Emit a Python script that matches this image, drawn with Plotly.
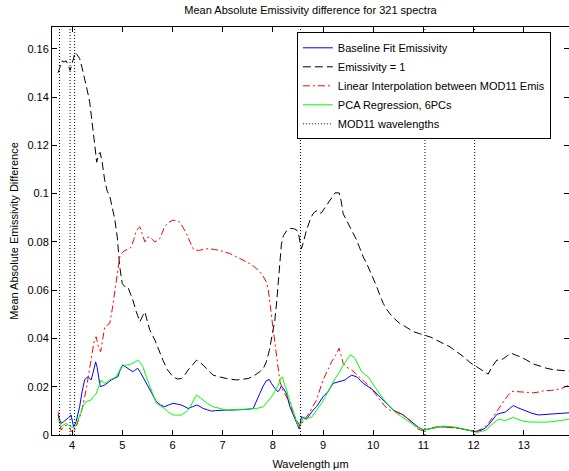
import plotly.graph_objects as go

# ---------------- data ----------------
mod11_wavelengths = [3.75, 3.96, 4.05, 8.55, 11.03, 12.02]

wl_emis1 = [3.72, 3.76, 3.80, 3.84, 3.88, 3.92, 3.96, 3.99, 4.02, 4.06, 4.10, 4.15, 4.20, 4.25, 4.30,
            4.35, 4.40, 4.45, 4.49, 4.53, 4.56, 4.60, 4.65, 4.70, 4.75, 4.80, 4.85, 4.90, 4.95, 5.00,
            5.05, 5.11, 5.16, 5.21, 5.28, 5.35, 5.41, 5.45, 5.50, 5.55, 5.65, 5.73, 5.81, 5.90, 6.01,
            6.10, 6.18, 6.25, 6.31, 6.40, 6.48, 6.55, 6.61, 6.70, 6.81, 6.95, 7.08, 7.28, 7.40, 7.51,
            7.62, 7.74, 7.82, 7.87, 7.93, 7.97, 8.04, 8.08, 8.11, 8.14, 8.17, 8.21, 8.27, 8.34, 8.41,
            8.47, 8.51, 8.54, 8.57, 8.61, 8.67, 8.74, 8.80, 8.86, 8.90, 8.96, 9.00, 9.05, 9.10, 9.17,
            9.24, 9.32, 9.36, 9.40, 9.47, 9.54, 9.60, 9.67, 9.73, 9.80, 9.87, 9.93, 10.00, 10.07, 10.13,
            10.20, 10.27, 10.33, 10.43, 10.53, 10.67, 10.80, 10.92, 11.03, 11.15, 11.26, 11.40, 11.53,
            11.66, 11.80, 11.93, 12.06, 12.18, 12.29, 12.36, 12.42, 12.46, 12.53, 12.60, 12.68, 12.76,
            12.85, 12.93, 13.06, 13.19, 13.33, 13.46, 13.60, 13.72, 13.90]
emis1 = [0.1500, 0.1525, 0.1550, 0.1545, 0.1550, 0.1535, 0.1510, 0.1530, 0.1560, 0.1585, 0.1575, 0.1560,
         0.1520, 0.1480, 0.1430, 0.1380, 0.1300, 0.1205, 0.1130, 0.1165, 0.1170, 0.1130, 0.1055, 0.1010,
         0.0990, 0.0945, 0.0895, 0.0820, 0.0696, 0.0627, 0.0615, 0.0614, 0.0590, 0.0559, 0.0510, 0.0469,
         0.0495, 0.0510, 0.0470, 0.0434, 0.0393, 0.0350, 0.0310, 0.0270, 0.0241, 0.0232, 0.0234, 0.0250,
         0.0269, 0.0290, 0.0310, 0.0300, 0.0290, 0.0270, 0.0248, 0.0240, 0.0234, 0.0228, 0.0230, 0.0234,
         0.0245, 0.0262, 0.0280, 0.0303, 0.0350, 0.0393, 0.0476, 0.0560, 0.0641, 0.0720, 0.0790, 0.0825,
         0.0845, 0.0855, 0.0855, 0.0850, 0.0835, 0.0800, 0.0772, 0.0800, 0.0848, 0.0890, 0.0917, 0.0928,
         0.0928, 0.0918, 0.0930, 0.0945, 0.0965, 0.0985, 0.1003, 0.1003, 0.0970, 0.0917, 0.0890, 0.0862,
         0.0835, 0.0807, 0.0775, 0.0738, 0.0710, 0.0683, 0.0650, 0.0614, 0.0580, 0.0545, 0.0520, 0.0503,
         0.0480, 0.0462, 0.0445, 0.0428, 0.0420, 0.0414, 0.0405, 0.0393, 0.0380, 0.0365, 0.0345, 0.0324,
         0.0300, 0.0283, 0.0265, 0.0252, 0.0280, 0.0300, 0.0310, 0.0310, 0.0317, 0.0330, 0.0338, 0.0330,
         0.0324, 0.0310, 0.0294, 0.0285, 0.0276, 0.0270, 0.0269, 0.0265]

wl_interp = [3.72, 3.78, 3.83, 3.88, 3.95, 4.02, 4.08, 4.18, 4.28, 4.38, 4.44, 4.48, 4.53, 4.57, 4.62,
             4.65, 4.70, 4.75, 4.80, 4.85, 4.90, 4.95, 5.00, 5.05, 5.12, 5.18, 5.23, 5.28, 5.35, 5.40,
             5.45, 5.50, 5.55, 5.60, 5.65, 5.70, 5.75, 5.80, 5.84, 5.92, 6.01, 6.08, 6.14, 6.21, 6.28,
             6.35, 6.41, 6.48, 6.54, 6.64, 6.74, 6.84, 6.94, 7.04, 7.14, 7.24, 7.34, 7.44, 7.54, 7.64,
             7.74, 7.80, 7.87, 7.91, 7.94, 7.97, 8.00, 8.04, 8.07, 8.11, 8.14, 8.20, 8.27, 8.34, 8.40,
             8.47, 8.54, 8.59, 8.64, 8.72, 8.80, 8.87, 9.00, 9.08, 9.17, 9.25, 9.32, 9.36, 9.40, 9.48,
             9.57, 9.65, 9.73, 9.83, 9.93, 10.03, 10.13, 10.23, 10.33, 10.43, 10.53, 10.63, 10.73, 10.80,
             10.86, 10.95, 11.03, 11.15, 11.26, 11.40, 11.53, 11.66, 11.80, 11.92, 12.03, 12.10, 12.20,
             12.30, 12.39, 12.49, 12.59, 12.68, 12.76, 12.90, 13.06, 13.19, 13.30, 13.39, 13.55, 13.66,
             13.78, 13.90]
interp = [0.0097, 0.0020, 0.0035, 0.0041, 0.0028, 0.0007, 0.0034, 0.0090, 0.0186, 0.0324, 0.0390, 0.0407,
          0.0360, 0.0345, 0.0400, 0.0448, 0.0455, 0.0462, 0.0520, 0.0600, 0.0670, 0.0738, 0.0755, 0.0765,
          0.0768, 0.0779, 0.0810, 0.0848, 0.0862, 0.0830, 0.0800, 0.0818, 0.0821, 0.0810, 0.0800, 0.0805,
          0.0814, 0.0840, 0.0862, 0.0880, 0.0890, 0.0888, 0.0883, 0.0860, 0.0834, 0.0800, 0.0772, 0.0765,
          0.0765, 0.0770, 0.0772, 0.0768, 0.0765, 0.0758, 0.0752, 0.0742, 0.0731, 0.0720, 0.0710, 0.0695,
          0.0676, 0.0660, 0.0634, 0.0600, 0.0559, 0.0500, 0.0448, 0.0380, 0.0324, 0.0260, 0.0222, 0.0186,
          0.0159, 0.0131, 0.0095, 0.0062, 0.0037, 0.0050, 0.0066, 0.0090, 0.0117, 0.0145, 0.0228, 0.0265,
          0.0303, 0.0330, 0.0359, 0.0330, 0.0297, 0.0280, 0.0269, 0.0255, 0.0241, 0.0220, 0.0200, 0.0172,
          0.0145, 0.0120, 0.0103, 0.0097, 0.0090, 0.0076, 0.0062, 0.0045, 0.0028, 0.0020, 0.0018, 0.0028,
          0.0034, 0.0034, 0.0032, 0.0028, 0.0023, 0.0018, 0.0014, 0.0020, 0.0028, 0.0050, 0.0076, 0.0110,
          0.0138, 0.0163, 0.0181, 0.0180, 0.0178, 0.0175, 0.0178, 0.0183, 0.0185, 0.0188, 0.0195, 0.0207]

wl_baseline = [3.72, 3.78, 3.83, 3.88, 3.93, 3.98, 4.01, 4.03, 4.06, 4.08, 4.12, 4.15, 4.20, 4.25, 4.29,
               4.32, 4.35, 4.38, 4.42, 4.47, 4.50, 4.52, 4.56, 4.60, 4.65, 4.72, 4.78, 4.85, 4.91, 4.96,
               5.01, 5.06, 5.11, 5.16, 5.21, 5.26, 5.31, 5.36, 5.41, 5.48, 5.55, 5.62, 5.68, 5.76, 5.84,
               5.92, 6.01, 6.10, 6.18, 6.25, 6.31, 6.40, 6.48, 6.55, 6.61, 6.70, 6.78, 6.86, 6.94, 7.04,
               7.14, 7.24, 7.34, 7.48, 7.61, 7.68, 7.74, 7.80, 7.87, 7.93, 7.97, 8.04, 8.10, 8.14, 8.17,
               8.22, 8.27, 8.34, 8.41, 8.47, 8.525, 8.57, 8.62, 8.67, 8.80, 8.87, 9.00, 9.10, 9.20, 9.34,
               9.44, 9.50, 9.57, 9.67, 9.80, 9.90, 10.00, 10.10, 10.20, 10.30, 10.40, 10.50, 10.60, 10.70,
               10.80, 10.90, 11.00, 11.10, 11.20, 11.33, 11.47, 11.60, 11.73, 11.86, 11.96, 12.06, 12.15,
               12.23, 12.33, 12.39, 12.46, 12.53, 12.63, 12.72, 12.79, 12.88, 12.99, 13.06, 13.16, 13.29,
               13.40, 13.52, 13.72, 13.90]
baseline = [0.0083, 0.0048, 0.0055, 0.0062, 0.0072, 0.0083, 0.0060, 0.0034, 0.0045, 0.0055, 0.0090, 0.0117,
            0.0180, 0.0228, 0.0238, 0.0241, 0.0235, 0.0228, 0.0260, 0.0303, 0.0280, 0.0255, 0.0200, 0.0203,
            0.0207, 0.0218, 0.0228, 0.0235, 0.0241, 0.0270, 0.0290, 0.0283, 0.0276, 0.0270, 0.0262, 0.0270,
            0.0276, 0.0260, 0.0241, 0.0210, 0.0186, 0.0160, 0.0138, 0.0125, 0.0117, 0.0124, 0.0131, 0.0128,
            0.0124, 0.0117, 0.0110, 0.0117, 0.0124, 0.0118, 0.0110, 0.0104, 0.0099, 0.0101, 0.0103, 0.0103,
            0.0103, 0.0103, 0.0103, 0.0106, 0.0110, 0.0140, 0.0172, 0.0200, 0.0225, 0.0230, 0.0214, 0.0193,
            0.0179, 0.0190, 0.0203, 0.0190, 0.0172, 0.0117, 0.0085, 0.0050, 0.0025, 0.0076, 0.0069, 0.0065,
            0.0103, 0.0117, 0.0159, 0.0180, 0.0214, 0.0221, 0.0228, 0.0238, 0.0248, 0.0241, 0.0214, 0.0200,
            0.0186, 0.0165, 0.0145, 0.0124, 0.0103, 0.0093, 0.0083, 0.0065, 0.0048, 0.0032, 0.0021, 0.0025,
            0.0028, 0.0034, 0.0033, 0.0032, 0.0027, 0.0021, 0.0017, 0.0014, 0.0020, 0.0028, 0.0050, 0.0065,
            0.0085, 0.0090, 0.0095, 0.0110, 0.0122, 0.0113, 0.0103, 0.0097, 0.0090, 0.0083, 0.0085, 0.0087,
            0.0090, 0.0092]

wl_pca = [3.72, 3.78, 3.83, 3.88, 3.93, 3.98, 4.03, 4.08, 4.13, 4.18, 4.23, 4.28, 4.33, 4.38, 4.43,
          4.48, 4.53, 4.58, 4.62, 4.65, 4.70, 4.75, 4.82, 4.88, 4.93, 4.98, 5.08, 5.15, 5.21, 5.26,
          5.31, 5.36, 5.41, 5.48, 5.55, 5.62, 5.68, 5.76, 5.84, 5.92, 6.01, 6.10, 6.18, 6.26, 6.34,
          6.41, 6.48, 6.55, 6.61, 6.70, 6.81, 6.95, 7.08, 7.20, 7.34, 7.50, 7.68, 7.81, 7.87, 7.94,
          8.00, 8.06, 8.11, 8.15, 8.19, 8.23, 8.27, 8.30, 8.37, 8.44, 8.50, 8.54, 8.60, 8.64, 8.70,
          8.77, 8.87, 8.97, 9.05, 9.15, 9.24, 9.34, 9.40, 9.47, 9.54, 9.60, 9.64, 9.70, 9.77, 9.84,
          9.90, 9.98, 10.07, 10.17, 10.27, 10.37, 10.47, 10.57, 10.67, 10.77, 10.86, 10.95, 11.03, 11.12,
          11.20, 11.30, 11.40, 11.53, 11.66, 11.76, 11.86, 11.96, 12.06, 12.16, 12.26, 12.33, 12.42,
          12.49, 12.53, 12.60, 12.66, 12.72, 12.79, 12.88, 12.99, 13.10, 13.26, 13.39, 13.55, 13.72, 13.90]
pca = [0.0073, 0.0034, 0.0042, 0.0048, 0.0040, 0.0034, 0.0028, 0.0041, 0.0070, 0.0103, 0.0125, 0.0138,
       0.0143, 0.0145, 0.0160, 0.0172, 0.0200, 0.0228, 0.0218, 0.0214, 0.0220, 0.0228, 0.0235, 0.0241,
       0.0260, 0.0283, 0.0290, 0.0292, 0.0297, 0.0305, 0.0310, 0.0300, 0.0283, 0.0240, 0.0200, 0.0160,
       0.0131, 0.0120, 0.0110, 0.0095, 0.0083, 0.0082, 0.0083, 0.0095, 0.0110, 0.0140, 0.0165, 0.0155,
       0.0145, 0.0130, 0.0117, 0.0110, 0.0103, 0.0104, 0.0106, 0.0108, 0.0110, 0.0117, 0.0131, 0.0150,
       0.0165, 0.0190, 0.0207, 0.0232, 0.0241, 0.0210, 0.0190, 0.0165, 0.0120, 0.0076, 0.0040, 0.0034,
       0.0069, 0.0072, 0.0070, 0.0073, 0.0100, 0.0131, 0.0160, 0.0200, 0.0234, 0.0265, 0.0290, 0.0310,
       0.0331, 0.0325, 0.0317, 0.0290, 0.0262, 0.0250, 0.0241, 0.0215, 0.0186, 0.0158, 0.0131, 0.0110,
       0.0090, 0.0075, 0.0062, 0.0048, 0.0034, 0.0026, 0.0021, 0.0025, 0.0028, 0.0033, 0.0037, 0.0035,
       0.0032, 0.0027, 0.0021, 0.0015, 0.0011, 0.0015, 0.0021, 0.0038, 0.0055, 0.0065, 0.0065, 0.0060,
       0.0062, 0.0068, 0.0073, 0.0065, 0.0057, 0.0054, 0.0053, 0.0053, 0.0055, 0.0059, 0.0065]

x_range = [3.6, 13.9]
y_range = [0, 0.169]

# ---------------- figure ----------------
FONT = "Liberation Sans, Arial, Helvetica, sans-serif"
fig = go.Figure()

fig.add_trace(go.Scatter(x=wl_baseline, y=baseline, mode="lines", name="Baseline Fit Emissivity",
                         line=dict(color="#0000ff", width=1)))
fig.add_trace(go.Scatter(x=wl_emis1, y=emis1, mode="lines", name="Emissivity = 1",
                         line=dict(color="#000000", width=1, dash="8px,4px")))
fig.add_trace(go.Scatter(x=wl_interp, y=interp, mode="lines",
                         name="Linear Interpolation between MOD11 Emis",
                         line=dict(color="#ff0000", width=1, dash="7px,3px,2px,3px")))
fig.add_trace(go.Scatter(x=wl_pca, y=pca, mode="lines", name="PCA Regression, 6PCs",
                         line=dict(color="#00ff00", width=1)))

vx, vy = [], []
for w in mod11_wavelengths:
    vx += [w, w, None]
    vy += [y_range[0], y_range[1], None]
fig.add_trace(go.Scatter(x=vx, y=vy, mode="lines", name="MOD11 wavelengths",
                         line=dict(color="#000000", width=1, dash="1px,2px")))

fig.update_layout(
    width=569, height=471,
    margin=dict(l=52, r=0, t=27, b=36),
    paper_bgcolor="white", plot_bgcolor="white",
    font=dict(family=FONT, size=11, color="#000000"),
    title=dict(text="Mean Absolute Emissivity difference for 321 spectra",
               x=0.5, xref="paper", xanchor="center",
               y=1 - 10 / 471, yref="container", yanchor="middle",
               font=dict(family=FONT, size=11, color="#000000")),
    showlegend=True,
    hovermode=False,
    legend=dict(x=0.4736, y=0.987, xanchor="left", yanchor="top",
                bgcolor="white", bordercolor="#000000", borderwidth=1,
                font=dict(family=FONT, size=11, color="#000000"),
                tracegroupgap=0),
)
fig.update_xaxes(range=x_range, tickmode="array", tickvals=list(range(4, 14)),
                 ticks="inside", ticklen=5, tickcolor="#000000", showgrid=False, zeroline=False,
                 showline=True, linecolor="#000000", linewidth=1, mirror="ticks",
                 title=dict(text="Wavelength \u03bcm", standoff=10, font=dict(size=11)))
fig.update_yaxes(range=y_range, tick0=0, dtick=0.02,
                 ticks="inside", ticklen=5, tickcolor="#000000", showgrid=False, zeroline=False,
                 showline=True, linecolor="#000000", linewidth=1, mirror="ticks",
                 title=dict(text="Mean Absolute Emissivity Difference", standoff=6, font=dict(size=11)))

fig.write_html("out.html", config={"displayModeBar": False},
               post_script="document.body.style.margin='0px';document.body.style.overflow='hidden';")
